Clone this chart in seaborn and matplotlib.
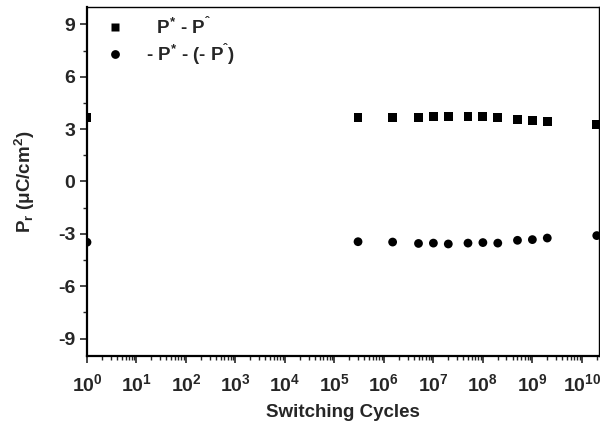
import numpy as np
import pandas as pd
import seaborn as sns
import matplotlib
matplotlib.use('Agg')
import matplotlib.pyplot as plt
from matplotlib.ticker import LogLocator, MultipleLocator, NullFormatter

cycles = [1, 3e5, 1.5e6, 5e6, 1e7, 2e7, 5e7, 1e8, 2e8, 5e8, 1e9, 2e9, 2e10]
p_pos = [3.68, 3.65, 3.65, 3.65, 3.7, 3.7, 3.74, 3.7, 3.65, 3.55, 3.5, 3.45, 3.25]
p_neg = [-3.48, -3.45, -3.47, -3.55, -3.53, -3.58, -3.53, -3.5, -3.53, -3.37, -3.33, -3.24, -3.1]
labels = ['   P$^{*}$ - P$^{ˆ}$', ' - P$^{*}$ - (- P$^{ˆ}$)']

df = pd.concat([
    pd.DataFrame({'cycles': cycles, 'Pr': p_pos, 'series': labels[0]}),
    pd.DataFrame({'cycles': cycles, 'Pr': p_neg, 'series': labels[1]}),
])

sns.set_style('ticks')
plt.rcParams['font.family'] = ['Liberation Sans', 'DejaVu Sans']
plt.rcParams['font.weight'] = 'bold'
plt.rcParams['axes.unicode_minus'] = False
plt.rcParams['mathtext.fontset'] = 'custom'
plt.rcParams['mathtext.rm'] = 'Liberation Sans:bold'
plt.rcParams['mathtext.bf'] = 'Liberation Sans:bold'
plt.rcParams['mathtext.it'] = 'Liberation Sans:bold'
plt.rcParams['mathtext.default'] = 'bf'

fig = plt.figure(figsize=(6, 4.29), dpi=100)
ax = fig.add_axes([0.145, 0.170, 0.853, 0.814])

sns.scatterplot(data=df, x='cycles', y='Pr', hue='series', style='series',
                markers={labels[0]: 's', labels[1]: 'o'},
                palette={labels[0]: 'black', labels[1]: 'black'},
                s=40, edgecolor='none', ax=ax)

ax.set_xscale('log')
ax.set_xlim(1, 2.2e10)
ax.set_ylim(-10, 10)
ax.xaxis.set_major_locator(LogLocator(base=10, numticks=20))
ax.xaxis.set_minor_locator(LogLocator(base=10, subs=np.arange(2, 10), numticks=200))
ax.xaxis.set_minor_formatter(NullFormatter())
ax.yaxis.set_major_locator(MultipleLocator(3))
ax.yaxis.set_minor_locator(MultipleLocator(1.5))
ax.tick_params(which='major', direction='out', length=5, width=1.2, labelsize=14)
ax.tick_params(which='minor', direction='out', length=3, width=1)
ax.tick_params(axis='x', pad=7)
for name, sp in ax.spines.items():
    sp.set_visible(True)
    sp.set_color('black')
    sp.set_linewidth(1.6 if name in ('left', 'bottom') else 1.0)

ax.set_xlabel('Switching Cycles', fontsize=13.5, fontweight='bold', labelpad=7)
ax.set_ylabel('P$_{r}$ (μC/cm$^{2}$)', fontsize=13.5, fontweight='bold', labelpad=15)

leg = ax.legend(loc='upper left', frameon=False, fontsize=13.5, handletextpad=0.4,
                borderaxespad=0.1, labelspacing=0.22, markerscale=1.0)
for t in leg.get_texts():
    t.set_fontweight('bold')

fig.savefig('out.png', dpi=100)
